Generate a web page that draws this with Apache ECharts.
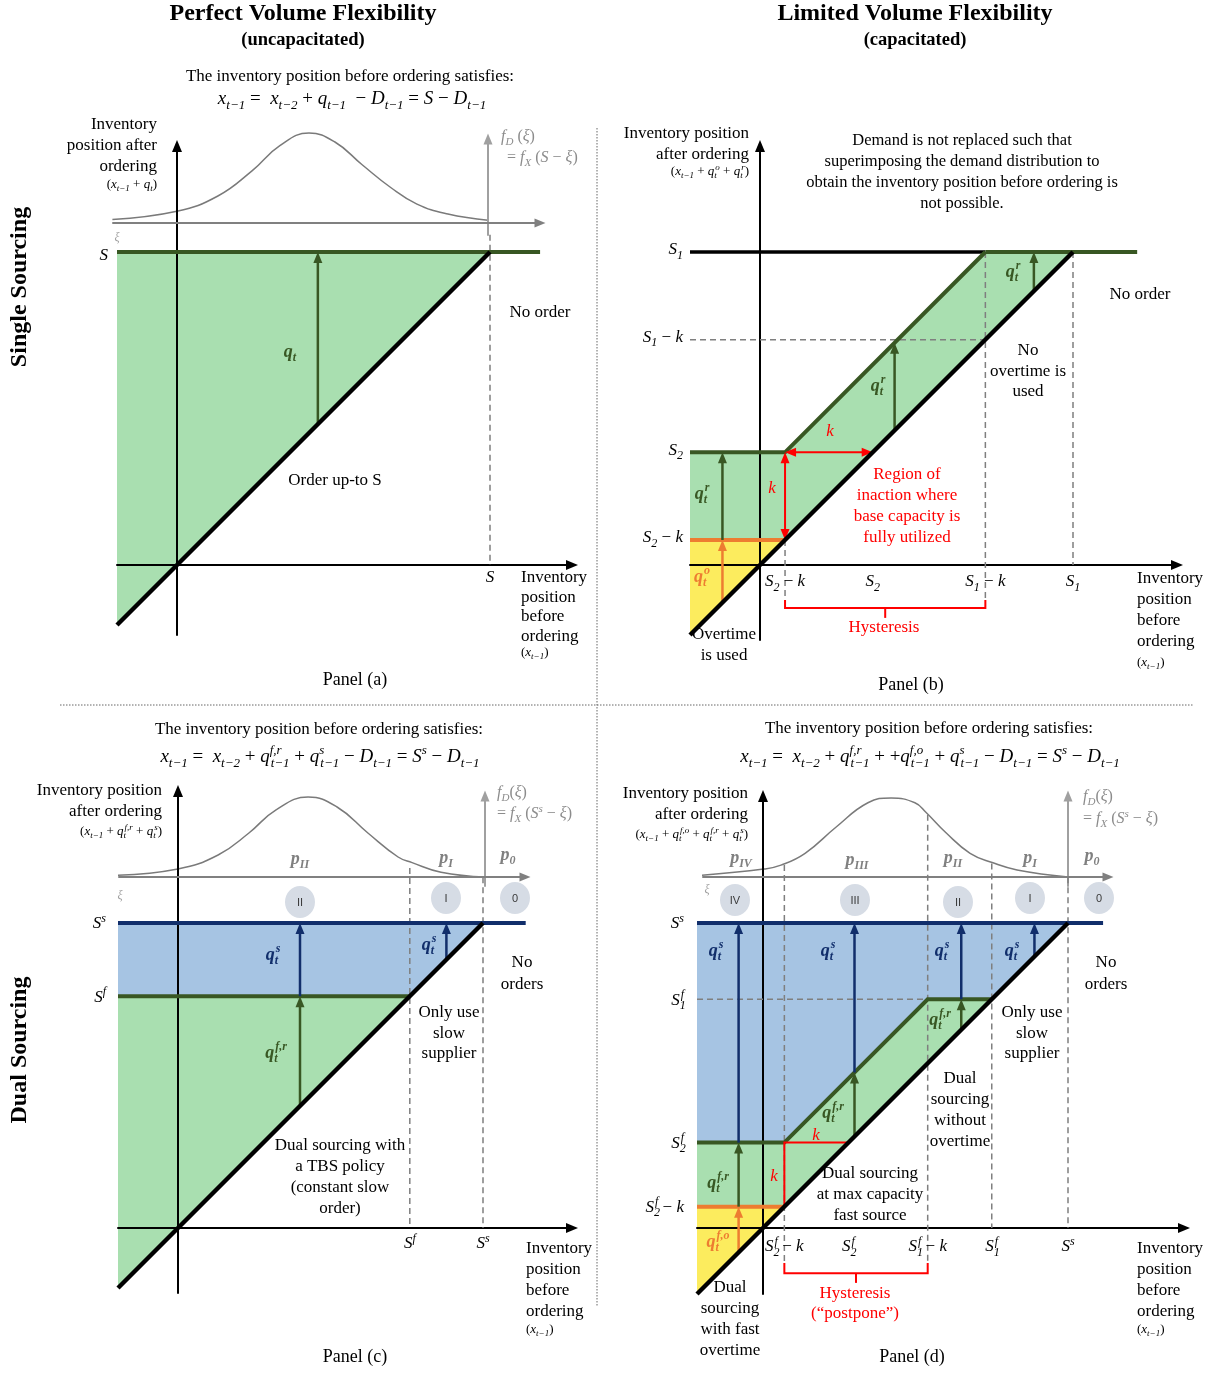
<!DOCTYPE html>
<html>
<head>
<meta charset="utf-8">
<script src="https://cdn.jsdelivr.net/npm/echarts@6.0.0/dist/echarts.min.js"></script>
<style>
  html, body { margin: 0; padding: 0; background: #ffffff; }
  #chart { width: 1217px; height: 1373px; }
</style>
</head>
<body>
<div id="chart"></div>
<script>
// ---------------- policy levels (model units) ----------------
// Panel (a): single sourcing, uncapacitated
const A_S = 10;
// Panel (b): single sourcing, capacitated (regular capacity k)
const B_S1 = 10, B_S2 = 3.6, B_K = 2.8;
// Panel (c): dual sourcing, uncapacitated fast source
const C_SS = 10, C_SF = 7.6;
// Panel (d): dual sourcing, capacitated fast source
const D_SS = 10, D_S1F = 7.5, D_S2F = 2.8, D_K = 2.1;

// right-hand end of the horizontal order-up-to lines
const LINE_END_A = 11.6, LINE_END_B = 12.05, LINE_END_C = 11.4, LINE_END_D = 11.15;

// demand densities f_D(xi): [xi, relative density]
const DENSITY_A = [[0,0.03],[1.28,0.10],[2.27,0.21],[3.13,0.40],[4.03,0.65],[4.89,0.90],[5.72,1.0],[6.65,0.86],[7.54,0.58],[8.63,0.30],[9.94,0.13],[12.0,0.04]];
const DENSITY_C = [[0,0.0],[1.44,0.06],[2.39,0.18],[2.85,0.25],[3.84,0.55],[4.85,0.875],[5.80,1.0],[6.85,0.84],[7.74,0.55],[8.75,0.275],[10.07,0.10],[12.13,0.02]];
const DENSITY_D = [[0,0.0],[1.67,0.09],[2.46,0.18],[3.21,0.30],[4.0,0.56],[4.66,0.82],[5.02,0.94],[5.80,1.0],[6.56,0.94],[7.61,0.63],[8.62,0.30],[9.41,0.15],[9.97,0.10],[12.03,0.02]];

// order quantities: [x_{t-1}, from level, to level, order type]
const ARROWS_A = [[4.5, 4.5, A_S, 'r']];
const ARROWS_B = [[-1.2, -1.2, B_S2 - B_K, 'o'], [-1.2, B_S2 - B_K, B_S2, 'r'], [4.3, 4.3, 4.3 + B_K, 'r'], [8.75, 8.75, B_S1, 'r']];
const ARROWS_C = [[4.0, C_SF, C_SS, 's'], [8.8, 8.8, C_SS, 's'], [4.0, 4.0, C_SF, 'r']];
const ARROWS_D = [[-0.8, -0.8, D_S2F - D_K, 'o'], [-0.8, D_S2F - D_K, D_S2F, 'r'], [-0.8, D_S2F, D_SS, 's'],
                  [3.0, 3.0, 3.0 + D_K, 'r'], [3.0, 3.0 + D_K, D_SS, 's'],
                  [6.5, 6.5, D_S1F, 'r'], [6.5, D_S1F, D_SS, 's'], [8.9, 8.9, D_SS, 's']];

// vertical guides: [x, top, bottom]
const GUIDES_A = [[A_S, 10.55, 0]];
const GUIDES_B = [[B_S2 - B_K, B_S2 - B_K, -1.12], [B_S1 - B_K, B_S1, -1.12], [B_S1, B_S1, 0]];
const GUIDES_C = [[C_SF, 11.8, 0], [C_SS, 11.5, 0]];
const GUIDES_D = [[D_S2F - D_K, 11.9, -1.15], [D_S1F - D_K, 13.55, -1.15], [D_S1F, 11.95, 0], [D_SS, 11.5, 0]];

// tick labels: [value, rich label]
const TICKS_A_X = [[A_S, '{i|S}']];
const TICKS_A_Y = [[A_S, '{i|S}']];
const TICKS_B = [[B_S1, '{i|S}{sb|1}'], [B_S1 - B_K, '{i|S}{sb|1}{r| − }{i|k}'], [B_S2, '{i|S}{sb|2}'], [B_S2 - B_K, '{i|S}{sb|2}{r| − }{i|k}']];
const TICKS_C = [[C_SS, '{i|S}{sp|s}'], [C_SF, '{i|S}{sp|f}']];
const TICKS_D_Y = [[D_SS, '{i|S}{sp|s}'], [D_S1F, '{i|S}{sbz|1}{sp|f}'], [D_S2F, '{i|S}{sbz|2}{sp|f}'], [D_S2F - D_K, '{i|S}{sbz|2}{sp|f}{r| − }{i|k}']];
const TICKS_D_X = [[D_S2F - D_K, '{i|S}{sbz|2}{sp|f}{r| − }{i|k}'], [D_S2F, '{i|S}{sbz|2}{sp|f}'], [D_S1F - D_K, '{i|S}{sbz|1}{sp|f}{r| − }{i|k}'], [D_S1F, '{i|S}{sbz|1}{sp|f}'], [D_SS, '{i|S}{sp|s}']];

// ---------------- styling ----------------
const SERIF = '"Liberation Serif", "DejaVu Serif", serif';
const SANS = '"Liberation Sans", "DejaVu Sans", sans-serif';
const GREEN_FILL = '#a9dfb0', BLUE_FILL = '#a6c4e3', YELLOW_FILL = '#fcec5e';
const DK_GREEN = '#385723', NAVY = '#112e6b', ORANGE = '#ed7d31', RED = '#ff0000';
const GUIDE = '#7f7f7f', DENS_GREY = '#808080', DENS_TEXT = '#8c8c8c';
const ORDER_COLOR = { r: DK_GREEN, o: ORANGE, s: NAVY };

// frames of each panel in pixels (origin, unit length, box)
const BOX = {
  a: { ox: 177, oy: 565, u: 31.3, left: 117, right: 572, top: 146, bottom: 635 },
  b: { ox: 760, oy: 565, u: 31.3, left: 690, right: 1177, top: 146, bottom: 640 },
  c: { ox: 178, oy: 1228, u: 30.5, left: 118, right: 572, top: 791, bottom: 1293 },
  d: { ox: 763, oy: 1228, u: 30.5, left: 697, right: 1184, top: 796, bottom: 1294 }
};
const DBOX = {
  a: { ox: 488, oy: 223, ux: 31.3, uy: 90, left: 113, right: 540, top: 139, bottom: 235 },
  c: { ox: 485, oy: 877, ux: 30.5, uy: 80, left: 119, right: 525, top: 796, bottom: 886 },
  d: { ox: 1068, oy: 877, ux: 30.5, uy: 79, left: 703, right: 1108, top: 796, bottom: 886 }
};

function ext(L) {
  return {
    grid: { left: L.left, top: L.top, width: L.right - L.left, height: L.bottom - L.top },
    xMin: (L.left - L.ox) / L.u, xMax: (L.right - L.ox) / L.u,
    yMin: (L.oy - L.bottom) / L.u, yMax: (L.oy - L.top) / L.u
  };
}
function dext(L) {
  return {
    grid: { left: L.left, top: L.top, width: L.right - L.left, height: L.bottom - L.top },
    xMin: (L.ox - L.right) / L.ux, xMax: (L.ox - L.left) / L.ux,
    yMin: (L.oy - L.bottom) / L.uy, yMax: (L.oy - L.top) / L.uy
  };
}

// rich text styles for math-like labels
function rich(size, color) {
  const s = Math.round(size * 0.68);
  const lh = Math.round(size * 1.4);
  const sh = Math.round(s * 1.1);
  const base = (extra) => Object.assign({ fontFamily: SERIF, fontSize: size, lineHeight: lh, align: 'left', fill: color }, extra);
  const small = (extra) => Object.assign({ fontFamily: SERIF, fontSize: s, lineHeight: sh, height: sh, align: 'left', fontStyle: 'italic', fill: color }, extra);
  return {
    r: base({}),
    i: base({ fontStyle: 'italic' }),
    b: base({ fontStyle: 'italic', fontWeight: 'bold' }),
    sb: small({ verticalAlign: 'bottom' }),
    sp: small({ verticalAlign: 'top' }),
    sbz: small({ verticalAlign: 'bottom', width: 1 }),
    spz: small({ verticalAlign: 'top', width: 1 }),
    bsb: small({ verticalAlign: 'bottom', fontWeight: 'bold' }),
    bsp: small({ verticalAlign: 'top', fontWeight: 'bold' }),
    bsbz: small({ verticalAlign: 'bottom', fontWeight: 'bold', width: 1 }),
    bspz: small({ verticalAlign: 'top', fontWeight: 'bold', width: 1 })
  };
}

// ---------------- drawing helpers ----------------
function arrowGroup(a, b, color, w, both) {
  const HL = 11, HW = 9;
  const dx = b[0] - a[0], dy = b[1] - a[1], len = Math.hypot(dx, dy) || 1;
  const ux = dx / len, uy = dy / len, nx = -uy, ny = ux;
  const head = (tip, sgn) => {
    const bx = tip[0] - sgn * ux * HL, by = tip[1] - sgn * uy * HL;
    return { type: 'polygon', shape: { points: [[tip[0], tip[1]], [bx + nx * HW / 2, by + ny * HW / 2], [bx - nx * HW / 2, by - ny * HW / 2]] }, style: { fill: color } };
  };
  const s = both ? [a[0] + ux * HL * 0.8, a[1] + uy * HL * 0.8] : a;
  const e = [b[0] - ux * HL * 0.8, b[1] - uy * HL * 0.8];
  const children = [{ type: 'line', shape: { x1: s[0], y1: s[1], x2: e[0], y2: e[1] }, style: { stroke: color, lineWidth: w } }, head(b, 1)];
  if (both) children.push(head(a, -1));
  return { type: 'group', children };
}
function drawShape(sh, api) {
  const P = (p) => api.coord(p);
  if (sh.kind === 'poly') return { type: 'polygon', shape: { points: sh.pts.map(P) }, style: { fill: sh.fill } };
  if (sh.kind === 'line') return { type: 'polyline', shape: { points: sh.pts.map(P) }, style: { stroke: sh.color, lineWidth: sh.width, lineDash: sh.dash || null, fill: null, lineJoin: 'miter' } };
  if (sh.kind === 'arrow') return arrowGroup(P(sh.from), P(sh.to), sh.color, sh.width, sh.both);
  return null;
}
function shapeSeries(gi, shapes, z) {
  return {
    type: 'custom', xAxisIndex: gi, yAxisIndex: gi, z, silent: true, clip: false,
    data: shapes.map(() => [0, 0]),
    renderItem: (params, api) => drawShape(shapes[params.dataIndex], api)
  };
}
// tick labels placed at the axis values, next to the axis lines through the origin
function tickSeries(gi, tx, ty, below, leftOf, lift) {
  const items = tx.map((t) => ({ ax: 'x', v: t[0], label: t[1] })).concat(ty.map((t) => ({ ax: 'y', v: t[0], label: t[1] })));
  return {
    type: 'custom', xAxisIndex: gi, yAxisIndex: gi, z: 8, silent: true, clip: false,
    data: items.map(() => [0, 0]),
    renderItem: (params, api) => {
      const it = items[params.dataIndex];
      const isX = it.ax === 'x';
      const p = isX ? api.coord([it.v, 0]) : api.coord([0, it.v]);
      return { type: 'text', x: isX ? p[0] : p[0] - leftOf, y: isX ? p[1] + below : p[1] + lift,
        style: { text: it.label, rich: rich(17, '#000'), textAlign: isX ? 'center' : 'right', textVerticalAlign: 'middle' } };
    }
  };
}
const poly = (pts, fill) => ({ kind: 'poly', pts, fill });
const line = (pts, color, width, dash) => ({ kind: 'line', pts, color, width, dash });
const dashV = (g) => line([[g[0], g[1]], [g[0], g[2]]], GUIDE, 1.5, [6, 4]);
const orderArrow = (a) => ({ kind: 'arrow', from: [a[0], a[1]], to: [a[0], a[2]], color: ORDER_COLOR[a[3]], width: 2.5 });
const bracket = (x0, x1, top, mid, tip) => [
  line([[x0, top], [x0, mid], [x1, mid], [x1, top]], RED, 2),
  line([[(x0 + x1) / 2, mid], [(x0 + x1) / 2, tip]], RED, 2)
];

// ---------------- coordinate systems ----------------
const EA = ext(BOX.a), EB = ext(BOX.b), EC = ext(BOX.c), ED = ext(BOX.d);
const DA = dext(DBOX.a), DC = dext(DBOX.c), DD = dext(DBOX.d);
const grids = [EA, EB, EC, ED, DA, DC, DD].map((e) => e.grid);
const xAxes = [], yAxes = [];

function mainAxes(i, e) {
  const axisLine = { show: true, onZero: true, symbol: ['none', 'triangle'], symbolSize: [10, 12], lineStyle: { color: '#000', width: 2 } };
  const common = { gridIndex: i, type: 'value', z: 3, axisLine, axisTick: { show: false }, axisLabel: { show: false }, splitLine: { show: false } };
  xAxes.push(Object.assign({ min: e.xMin, max: e.xMax }, common));
  yAxes.push(Object.assign({ min: e.yMin, max: e.yMax }, common));
}
function densityAxes(i, e) {
  const mk = (col) => ({ show: true, onZero: true, symbol: ['none', 'triangle'], symbolSize: [9, 11], lineStyle: { color: col, width: 2 } });
  xAxes.push({ gridIndex: i, type: 'value', inverse: true, min: e.xMin, max: e.xMax, z: 3, axisLine: mk(DENS_GREY), axisTick: { show: false }, axisLabel: { show: false }, splitLine: { show: false } });
  yAxes.push({ gridIndex: i, type: 'value', min: e.yMin, max: e.yMax, z: 3, axisLine: mk('#a0a0a0'), axisTick: { show: false }, axisLabel: { show: false }, splitLine: { show: false } });
}
mainAxes(0, EA);
mainAxes(1, EB);
mainAxes(2, EC);
mainAxes(3, ED);
densityAxes(4, DA);
densityAxes(5, DC);
densityAxes(6, DD);

// ---------------- panel shapes ----------------
const series = [];
function addPanel(gi, fills, guides, lines, arrows, top) {
  series.push(shapeSeries(gi, fills, 1));
  series.push(shapeSeries(gi, guides, 4));
  series.push(shapeSeries(gi, lines, 5));
  series.push(shapeSeries(gi, arrows, 6));
  series.push(shapeSeries(gi, top, 7));
}

// (a)
{
  const m = EA.xMin;
  addPanel(0,
    [poly([[m, A_S], [A_S, A_S], [m, m]], GREEN_FILL)],
    GUIDES_A.map(dashV),
    [line([[m, A_S], [LINE_END_A, A_S]], DK_GREEN, 4)],
    ARROWS_A.map(orderArrow),
    [line([[m, m], [A_S, A_S]], '#000', 4.5)]);
  series.push(tickSeries(0, TICKS_A_X, TICKS_A_Y, 13, 69, 4));
}
// (b)
{
  const m = EB.xMin, lo = B_S2 - B_K, hi = B_S1 - B_K;
  addPanel(1,
    [poly([[m, lo], [lo, lo], [m, m]], YELLOW_FILL),
     poly([[m, B_S2], [lo, B_S2], [hi, B_S1], [B_S1, B_S1], [lo, lo], [m, lo]], GREEN_FILL)],
    GUIDES_B.map(dashV).concat([line([[m, hi], [hi, hi]], GUIDE, 1.5, [6, 4])]),
    [line([[m, B_S1], [hi, B_S1]], '#000', 3.5),
     line([[hi, B_S1], [LINE_END_B, B_S1]], DK_GREEN, 4),
     line([[m, B_S2], [lo, B_S2], [hi, B_S1]], DK_GREEN, 4),
     line([[m, lo], [lo, lo]], ORANGE, 4)].concat(bracket(lo, hi, -1.12, -1.37, -1.69)),
    ARROWS_B.map(orderArrow).concat([
      { kind: 'arrow', from: [lo, lo], to: [lo, B_S2], color: RED, width: 2, both: true },
      { kind: 'arrow', from: [lo, B_S2], to: [B_S2, B_S2], color: RED, width: 2, both: true }]),
    [line([[m, m], [B_S1, B_S1]], '#000', 4.5)]);
  series.push(tickSeries(1, TICKS_B, TICKS_B, 17, 77, -2));
}
// (c)
{
  const m = EC.xMin;
  addPanel(2,
    [poly([[m, C_SS], [C_SS, C_SS], [C_SF, C_SF], [m, C_SF]], BLUE_FILL),
     poly([[m, C_SF], [C_SF, C_SF], [m, m]], GREEN_FILL)],
    GUIDES_C.map(dashV),
    [line([[m, C_SS], [LINE_END_C, C_SS]], NAVY, 4),
     line([[m, C_SF], [C_SF, C_SF]], DK_GREEN, 4)],
    ARROWS_C.map(orderArrow),
    [line([[m, m], [C_SS, C_SS]], '#000', 4.5)]);
  series.push(tickSeries(2, TICKS_C, TICKS_C, 16, 72, 1));
}
// (d)
{
  const m = ED.xMin, lo = D_S2F - D_K, hi = D_S1F - D_K;
  addPanel(3,
    [poly([[m, D_SS], [D_SS, D_SS], [D_S1F, D_S1F], [hi, D_S1F], [lo, D_S2F], [m, D_S2F]], BLUE_FILL),
     poly([[m, D_S2F], [lo, D_S2F], [hi, D_S1F], [D_S1F, D_S1F], [lo, lo], [m, lo]], GREEN_FILL),
     poly([[m, lo], [lo, lo], [m, m]], YELLOW_FILL)],
    GUIDES_D.map(dashV).concat([line([[m, D_S1F], [hi, D_S1F]], GUIDE, 1.5, [6, 4])]),
    [line([[m, D_SS], [LINE_END_D, D_SS]], NAVY, 4),
     line([[m, D_S2F], [lo, D_S2F], [hi, D_S1F], [D_S1F, D_S1F]], DK_GREEN, 4),
     line([[m, lo], [lo, lo]], ORANGE, 4),
     line([[lo, lo], [lo, D_S2F], [D_S2F, D_S2F]], RED, 2)].concat(bracket(lo, hi, -1.15, -1.48, -1.8)),
    ARROWS_D.map(orderArrow),
    [line([[m, m], [D_SS, D_SS]], '#000', 4.5)]);
  series.push(tickSeries(3, TICKS_D_X, TICKS_D_Y, 19, 79, 1));
}
// demand densities
[[4, DENSITY_A], [5, DENSITY_C], [6, DENSITY_D]].forEach(([gi, d]) => {
  series.push({ type: 'line', xAxisIndex: gi, yAxisIndex: gi, data: d, smooth: 0.45, showSymbol: false, clip: false, silent: true, z: 2,
    lineStyle: { color: '#7a7a7a', width: 1.5 } });
});

// ---------------- text ----------------
const G = [];
function fontStr(size, weight, style, fam) {
  return [style || '', weight || '', size + 'px', fam || SERIF].filter(Boolean).join(' ');
}
function txt(x, y, text, o) {
  o = o || {};
  const size = o.size || 17;
  G.push({ type: 'text', x, y, rotation: o.rot || 0, silent: true, z: 100,
    style: { text, fill: o.color || '#000', font: fontStr(size, o.weight, o.style, o.fam), textAlign: o.align || 'center', textVerticalAlign: 'middle', lineHeight: o.lh || Math.round(size * 1.3) } });
}
function rtxt(x, y, text, size, color, align) {
  G.push({ type: 'text', x, y, silent: true, z: 100,
    style: { text, rich: rich(size, color), textAlign: align || 'center', textVerticalAlign: 'middle' } });
}
function badge(x, y, label) {
  G.push({ type: 'ellipse', shape: { cx: x, cy: y, rx: 15, ry: 16 }, style: { fill: '#d6dce5' }, silent: true, z: 90 });
  txt(x, y + 1, label, { size: 11, fam: SANS, color: '#3a3a3a' });
}

// headings
txt(303, 14, 'Perfect Volume Flexibility', { size: 24, weight: 'bold' });
txt(303, 40, '(uncapacitated)', { size: 18.5, weight: 'bold' });
txt(915, 14, 'Limited Volume Flexibility', { size: 24, weight: 'bold' });
txt(915, 40, '(capacitated)', { size: 18.5, weight: 'bold' });
txt(20, 287, 'Single Sourcing', { size: 24, weight: 'bold', rot: Math.PI / 2 });
txt(20, 1050, 'Dual Sourcing', { size: 24, weight: 'bold', rot: Math.PI / 2 });
G.push({ type: 'line', shape: { x1: 597, y1: 128, x2: 597, y2: 1306 }, style: { stroke: '#666', lineWidth: 1, lineDash: [1.5, 1.5] }, silent: true, z: 100 });
G.push({ type: 'line', shape: { x1: 60, y1: 705, x2: 1193, y2: 705 }, style: { stroke: '#666', lineWidth: 1, lineDash: [1.5, 1.5] }, silent: true, z: 100 });

const SMALL_X = '{r|(}{i|x}{sb|t−1}{r|)}';
const XTITLE = 'Inventory\nposition\nbefore\nordering';
const INTRO = 'The inventory position before ordering satisfies:';

// panel (a)
txt(350, 77, INTRO);
rtxt(352, 99, '{i|x}{sb|t−1}{r| =  }{i|x}{sb|t−2}{r| + }{i|q}{sb|t−1}{r|  − }{i|D}{sb|t−1}{r| = }{i|S}{r| − }{i|D}{sb|t−1}', 19, '#000');
txt(157, 146, 'Inventory\nposition after\nordering', { align: 'right', lh: 21 });
rtxt(157, 185, '{r|(}{i|x}{sb|t−1}{r| + }{i|q}{sb|t}{r|)}', 13, '#000', 'right');
rtxt(501, 137, '{i|f}{sb|D}{r| (}{i|ξ}{r|)}', 16, DENS_TEXT, 'left');
rtxt(507, 158, '{r|= }{i|f}{sb|X}{r| (}{i|S}{r| − }{i|ξ}{r|)}', 16, DENS_TEXT, 'left');
txt(117, 238, 'ξ', { size: 12, style: 'italic', color: '#a0a0a0' });
txt(540, 313, 'No order');
txt(335, 481, 'Order up-to S');
rtxt(290, 352, '{b|q}{bsb|t}', 18, DK_GREEN);
txt(521, 607, XTITLE, { align: 'left', lh: 19.7 });
rtxt(521, 653, SMALL_X, 13, '#000', 'left');
txt(355, 680, 'Panel (a)', { size: 18 });

// panel (b)
txt(749, 144, 'Inventory position\nafter ordering', { align: 'right', lh: 21 });
rtxt(749, 172, '{r|(}{i|x}{sb|t−1}{r| + }{i|q}{sbz|t}{sp|o}{r| + }{i|q}{sbz|t}{sp|r}{r|)}', 13, '#000', 'right');
txt(962, 172.5, 'Demand is not replaced such that\nsuperimposing the demand distribution to\nobtain the inventory position before ordering is\nnot possible.', { size: 16.5, lh: 21 });
txt(1140, 295, 'No order');
txt(1028, 371.5, 'No\novertime is\nused', { lh: 20.5 });
rtxt(1013, 272, '{b|q}{bsbz|t}{bsp|r}', 18, DK_GREEN);
rtxt(878, 386, '{b|q}{bsbz|t}{bsp|r}', 18, DK_GREEN);
rtxt(702, 494, '{b|q}{bsbz|t}{bsp|r}', 18, DK_GREEN);
rtxt(702, 577, '{b|q}{bsbz|t}{bsp|o}', 18, ORANGE);
txt(830, 432, 'k', { style: 'italic', color: RED });
txt(772, 489, 'k', { style: 'italic', color: RED });
txt(907, 506.5, 'Region of\ninaction where\nbase capacity is\nfully utilized', { color: RED, lh: 21 });
txt(884, 628, 'Hysteresis', { color: RED });
txt(724, 645.5, 'Overtime\nis used', { lh: 21 });
txt(1137, 610.5, XTITLE, { align: 'left', lh: 21 });
rtxt(1137, 663, SMALL_X, 13, '#000', 'left');
txt(911, 685, 'Panel (b)', { size: 18 });

// panel (c)
txt(319, 730, INTRO);
rtxt(320, 757, '{i|x}{sb|t−1}{r| =  }{i|x}{sb|t−2}{r| + }{i|q}{spz|f,r}{sb|t−1}{r| + }{i|q}{spz|s}{sb|t−1}{r| − }{i|D}{sb|t−1}{r| = }{i|S}{sp|s}{r| − }{i|D}{sb|t−1}', 19, '#000');
txt(162, 801.5, 'Inventory position\nafter ordering', { align: 'right', lh: 21 });
rtxt(162, 832, '{r|(}{i|x}{sb|t−1}{r| + }{i|q}{sbz|t}{sp|f,r}{r| + }{i|q}{sbz|t}{sp|s}{r|)}', 13, '#000', 'right');
rtxt(497, 793, '{i|f}{sb|D}{r|(}{i|ξ}{r|)}', 16, DENS_TEXT, 'left');
rtxt(497, 814, '{r|= }{i|f}{sb|X}{r| (}{i|S}{sp|s}{r| − }{i|ξ}{r|)}', 16, DENS_TEXT, 'left');
txt(120, 896, 'ξ', { size: 12, style: 'italic', color: '#a0a0a0' });
rtxt(300, 859, '{b|p}{bsb|II}', 18, DENS_GREY);
rtxt(446, 858, '{b|p}{bsb|I}', 18, DENS_GREY);
rtxt(508, 855, '{b|p}{bsb|0}', 18, DENS_GREY);
badge(300, 902, 'II'); badge(446, 898, 'I'); badge(515, 898, '0');
rtxt(273, 955, '{b|q}{bsbz|t}{bsp|s}', 18, NAVY);
rtxt(429, 945, '{b|q}{bsbz|t}{bsp|s}', 18, NAVY);
rtxt(276, 1053, '{b|q}{bsbz|t}{bsp|f,r}', 18, DK_GREEN);
txt(522, 974, 'No\norders', { lh: 22 });
txt(449, 1033.5, 'Only use\nslow\nsupplier', { lh: 20.5 });
txt(340, 1177.5, 'Dual sourcing with\na TBS policy\n(constant slow\norder)', { lh: 21 });
txt(526, 1280, XTITLE, { align: 'left', lh: 20.7 });
rtxt(526, 1330, SMALL_X, 13, '#000', 'left');
txt(355, 1357, 'Panel (c)', { size: 18 });

// panel (d)
txt(929, 729, INTRO);
rtxt(930, 757, '{i|x}{sb|t−1}{r| =  }{i|x}{sb|t−2}{r| + }{i|q}{spz|f,r}{sb|t−1}{r| + +}{i|q}{spz|f,o}{sb|t−1}{r| + }{i|q}{spz|s}{sb|t−1}{r| − }{i|D}{sb|t−1}{r| = }{i|S}{sp|s}{r| − }{i|D}{sb|t−1}', 19, '#000');
txt(748, 804.5, 'Inventory position\nafter ordering', { align: 'right', lh: 21 });
rtxt(748, 835, '{r|(}{i|x}{sb|t−1}{r| + }{i|q}{sbz|t}{sp|f,o}{r| + }{i|q}{sbz|t}{sp|f,r}{r| + }{i|q}{sbz|t}{sp|s}{r|)}', 13, '#000', 'right');
rtxt(1083, 797, '{i|f}{sb|D}{r|(}{i|ξ}{r|)}', 16, DENS_TEXT, 'left');
rtxt(1083, 819, '{r|= }{i|f}{sb|X}{r| (}{i|S}{sp|s}{r| − }{i|ξ}{r|)}', 16, DENS_TEXT, 'left');
txt(707, 890, 'ξ', { size: 12, style: 'italic', color: '#a0a0a0' });
rtxt(741, 858, '{b|p}{bsb|IV}', 18, DENS_GREY);
rtxt(857, 860, '{b|p}{bsb|III}', 18, DENS_GREY);
rtxt(953, 858, '{b|p}{bsb|II}', 18, DENS_GREY);
rtxt(1030, 858, '{b|p}{bsb|I}', 18, DENS_GREY);
rtxt(1092, 856, '{b|p}{bsb|0}', 18, DENS_GREY);
badge(735, 900, 'IV'); badge(855, 900, 'III'); badge(958, 902, 'II'); badge(1030, 898, 'I'); badge(1099, 898, '0');
[716, 828, 942, 1012].forEach((x) => rtxt(x, 951, '{b|q}{bsbz|t}{bsp|s}', 18, NAVY));
rtxt(940, 1020, '{b|q}{bsbz|t}{bsp|f,r}', 18, DK_GREEN);
rtxt(833, 1113, '{b|q}{bsbz|t}{bsp|f,r}', 18, DK_GREEN);
rtxt(718, 1183, '{b|q}{bsbz|t}{bsp|f,r}', 18, DK_GREEN);
rtxt(718, 1242, '{b|q}{bsbz|t}{bsp|f,o}', 18, ORANGE);
txt(816, 1136, 'k', { style: 'italic', color: RED });
txt(774, 1177, 'k', { style: 'italic', color: RED });
txt(1106, 974, 'No\norders', { lh: 22 });
txt(1032, 1033.5, 'Only use\nslow\nsupplier', { lh: 20.5 });
txt(960, 1110, 'Dual\nsourcing\nwithout\novertime', { lh: 20.7 });
txt(870, 1195, 'Dual sourcing\nat max capacity\nfast source', { lh: 21 });
txt(730, 1319.5, 'Dual\nsourcing\nwith fast\novertime', { lh: 21 });
txt(855, 1304, 'Hysteresis\n(“postpone”)', { color: RED, lh: 20 });
txt(1137, 1280, XTITLE, { align: 'left', lh: 20.7 });
rtxt(1137, 1330, SMALL_X, 13, '#000', 'left');
txt(912, 1357, 'Panel (d)', { size: 18 });

// ---------------- chart ----------------
const chart = echarts.init(document.getElementById('chart'), null, { renderer: 'canvas' });
chart.setOption({
  backgroundColor: '#ffffff',
  animation: false,
  grid: grids,
  xAxis: xAxes,
  yAxis: yAxes,
  series,
  graphic: { elements: G }
});
</script>
</body>
</html>
